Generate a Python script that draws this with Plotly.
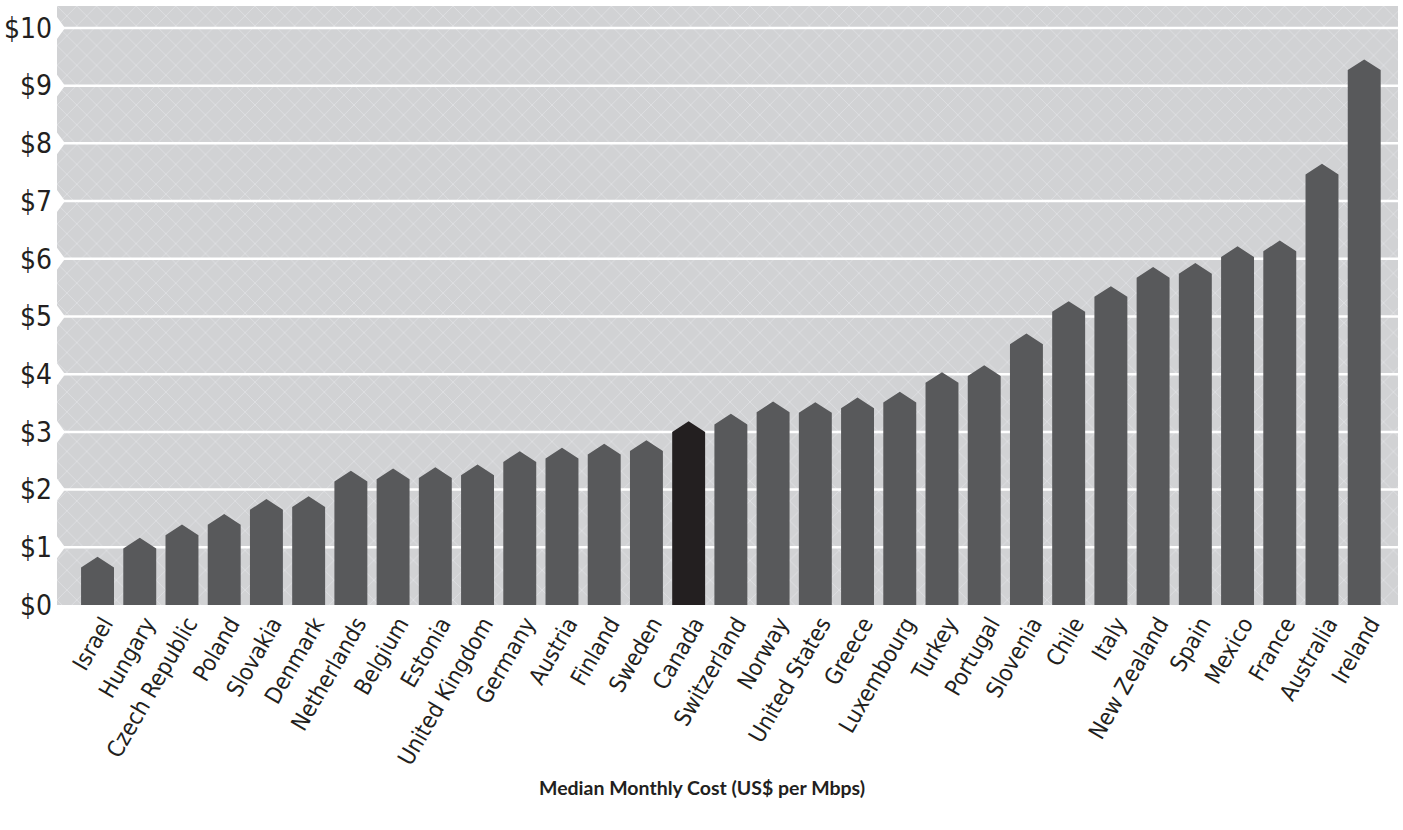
import plotly.graph_objects as go

# Median monthly cost of broadband, US$ per Mbps, by country
countries = [
    "Israel", "Hungary", "Czech Republic", "Poland", "Slovakia", "Denmark",
    "Netherlands", "Belgium", "Estonia", "United Kingdom", "Germany", "Austria",
    "Finland", "Sweden", "Canada", "Switzerland", "Norway", "United States",
    "Greece", "Luxembourg", "Turkey", "Portugal", "Slovenia", "Chile", "Italy",
    "New Zealand", "Spain", "Mexico", "France", "Australia", "Ireland",
]
cost = [
    0.65, 0.98, 1.21, 1.39, 1.65, 1.70,
    2.14, 2.18, 2.20, 2.25, 2.48, 2.54,
    2.61, 2.67, 3.00, 3.13, 3.34, 3.33,
    3.41, 3.51, 3.85, 3.97, 4.52, 5.08, 5.34,
    5.67, 5.74, 6.03, 6.13, 7.46, 9.27,
]
highlight = "Canada"

y_ticks = list(range(0, 11))
y_tick_text = [f"${v}" for v in y_ticks]

# styling
BAR = "#58595b"
BAR_HI = "#231f20"
BG = "#d1d2d4"
HATCH = "#dfe0e2"
TEXT = "#231f20"
LABEL_FONT = "DejaVu Sans Condensed, Liberation Sans Narrow, sans-serif"

x_lo, x_hi = -0.96, 30.8
y_lo, y_hi = 0, 10.38
bar_w = 0.78
cap = 0.185  # height of the pointed cap above each bar's value
label_shift = 0.15  # nudges rotated country labels toward the bar's right edge

fig = go.Figure()

# hatched panel background
fig.add_trace(go.Bar(
    x=[(x_lo + x_hi) / 2], y=[y_hi], width=[x_hi - x_lo], base=[0],
    marker=dict(color=BG, line=dict(width=0),
                pattern=dict(shape="x", fgcolor=HATCH, bgcolor=BG,
                             size=14, solidity=0.12, fillmode="replace")),
    hoverinfo="skip", showlegend=False,
))

# white grid lines drawn over the hatched panel
gx, gy = [], []
for v in y_ticks[1:]:
    gx += [x_lo, x_hi, None]
    gy += [v, v, None]
fig.add_trace(go.Scatter(x=gx, y=gy, mode="lines",
                         line=dict(color="white", width=2.5),
                         hoverinfo="skip", showlegend=False))

# chevron notches on the panel's left edge at each grid line
nx, ny = [], []
dx, dy = 0.19, 0.19
for v in y_ticks[1:]:
    nx += [x_lo, x_lo + dx, x_lo, x_lo, None]
    ny += [v - dy, v, v + dy, v - dy, None]
fig.add_trace(go.Scatter(x=nx, y=ny, mode="none", fill="toself",
                         fillcolor="white", hoverinfo="skip", showlegend=False))


def arrow_bars(indices):
    xs, ys = [], []
    for i in indices:
        v = cost[i]
        l, r = i - bar_w / 2, i + bar_w / 2
        xs += [l, l, i, r, r, l, None]
        ys += [0, v, v + cap, v, 0, 0, None]
    return xs, ys


normal = [i for i, c in enumerate(countries) if c != highlight]
special = [i for i, c in enumerate(countries) if c == highlight]

for idx, color in ((normal, BAR), (special, BAR_HI)):
    xs, ys = arrow_bars(idx)
    fig.add_trace(go.Scatter(x=xs, y=ys, mode="none", fill="toself",
                             fillcolor=color, hoverinfo="skip", showlegend=False))

fig.update_layout(
    width=1403, height=830,
    margin=dict(l=57, r=5, t=6, b=225),
    paper_bgcolor="white", plot_bgcolor="white",
    showlegend=False,
    xaxis=dict(range=[x_lo, x_hi], tickmode="array",
               tickvals=[i + label_shift for i in range(len(countries))],
               ticktext=countries,
               tickangle=-60, showgrid=False, zeroline=False, showline=False,
               ticks="", tickfont=dict(family=LABEL_FONT, size=23, color=TEXT)),
    yaxis=dict(range=[y_lo, y_hi], tickmode="array", tickvals=y_ticks,
               ticktext=y_tick_text, showgrid=False, zeroline=False,
               showline=False, ticks="", ticklabelstandoff=4,
               tickfont=dict(family=LABEL_FONT, size=28, color=TEXT)),
    annotations=[dict(
        text="<b>Median Monthly Cost (US$ per Mbps)</b>",
        xref="paper", yref="paper", x=(701.5 - 57) / 1341, y=-(787 - 605) / 599,
        xanchor="center", yanchor="middle", showarrow=False,
        font=dict(family="Lato, Open Sans, sans-serif", size=19.5, color=TEXT),
    )],
)

fig.write_html("out.html")
